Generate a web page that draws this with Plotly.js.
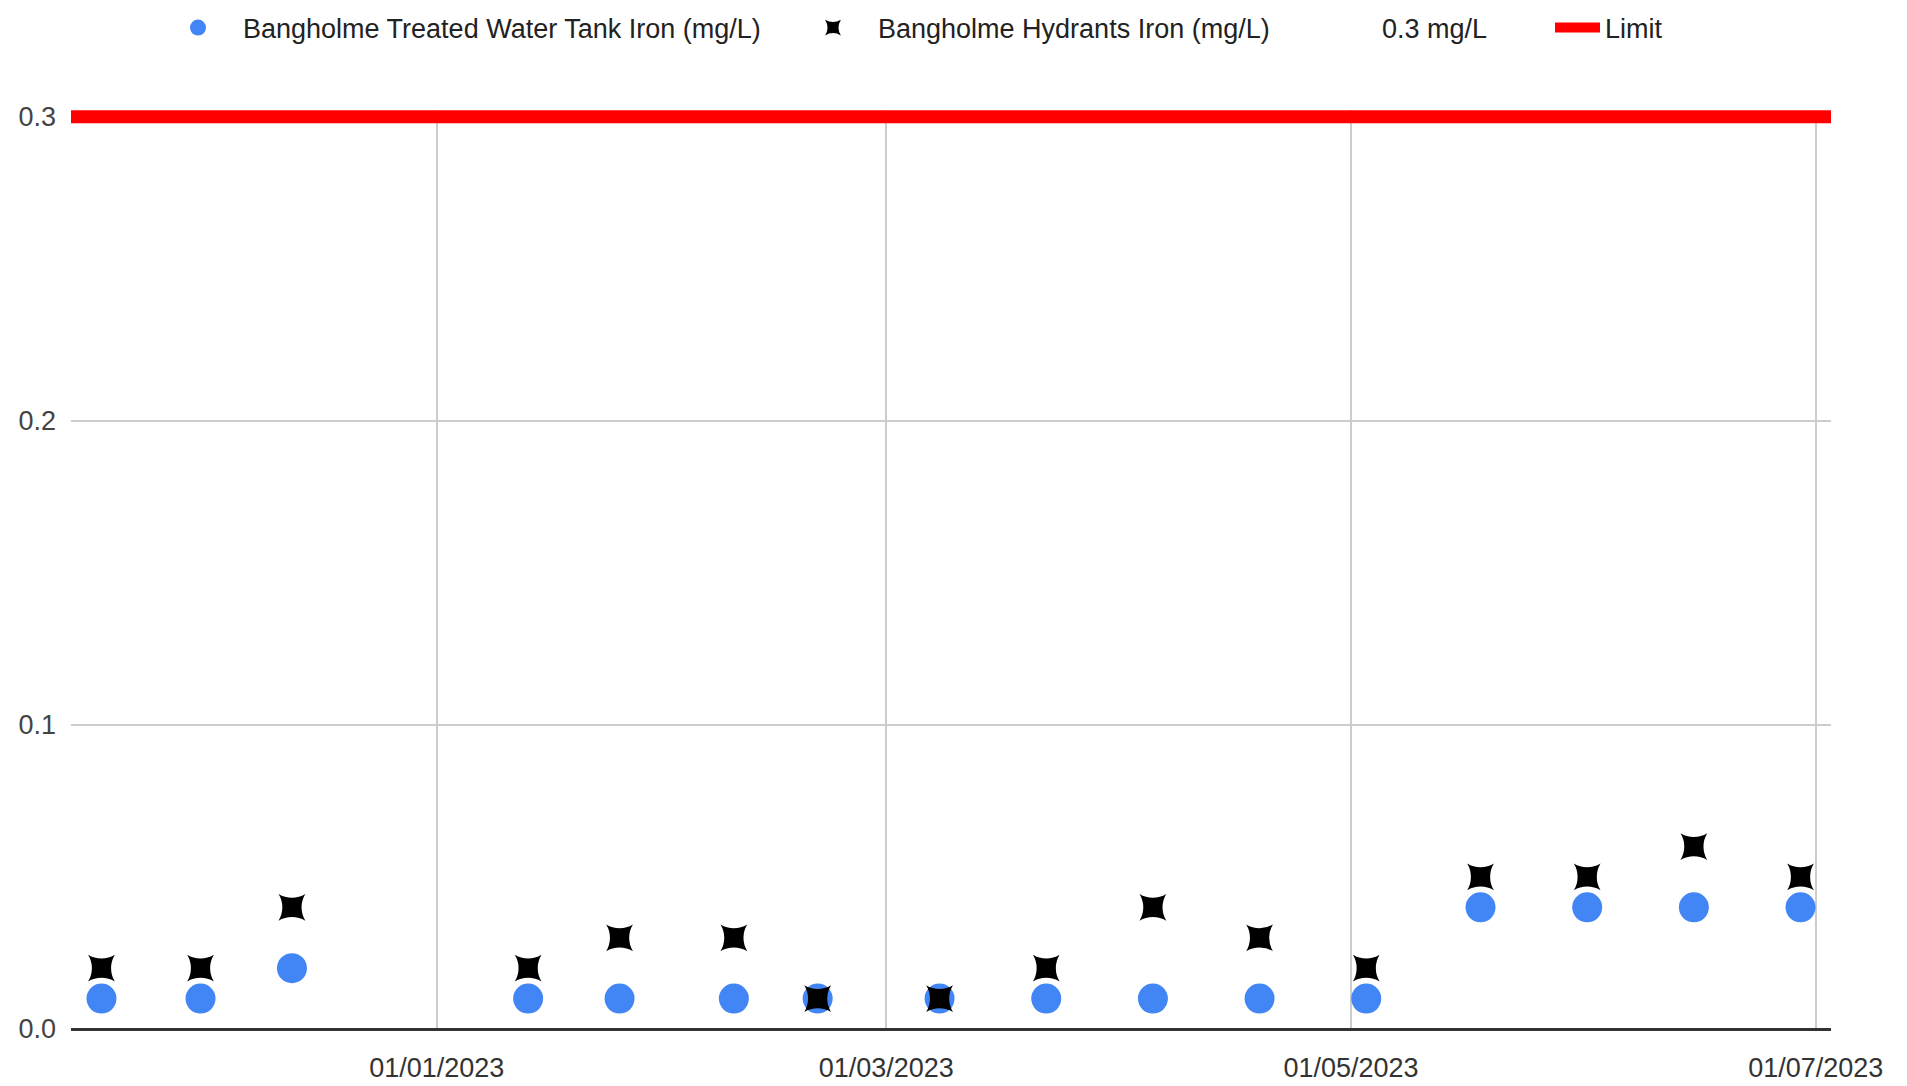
<!DOCTYPE html>
<html><head><meta charset="utf-8">
<script src="https://cdn.plot.ly/plotly-3.0.1.min.js"></script>
<style>html,body{margin:0;padding:0;background:#fff}#chart{width:1907px;height:1086px}</style>
</head><body><div id="chart"></div>
<script>
// Sample dates
const sampleDates = ['2022-11-18','2022-12-01','2022-12-13','2023-01-13','2023-01-25','2023-02-09','2023-02-20','2023-03-08','2023-03-22','2023-04-05','2023-04-19','2023-05-03','2023-05-18','2023-06-01','2023-06-15','2023-06-29'];
// Bangholme Treated Water Tank Iron (mg/L)
const tankIron = [0.01,0.01,0.02,0.01,0.01,0.01,0.01,0.01,0.01,0.01,0.01,0.01,0.04,0.04,0.04,0.04];
// Bangholme Hydrants Iron (mg/L)
const hydrantIron = [0.02,0.02,0.04,0.02,0.03,0.03,0.01,0.01,0.02,0.04,0.03,0.02,0.05,0.05,0.06,0.05];
// Limit line
const limitDates = ['2022-11-14','2023-07-03'];
const limitValues = [0.3, 0.3];
const yTickVals = [0, 0.1, 0.2, 0.3];
const seriesNames = ['Bangholme Treated Water Tank Iron (mg/L)','Bangholme Hydrants Iron (mg/L)','0.3 mg/L','Limit'];

const FONT = '"Liberation Sans", Arial, sans-serif';
const W = 1907, H = 1086;

const traces = [
  {x: sampleDates, y: tankIron, name: seriesNames[0], type: 'scatter', mode: 'markers',
   marker: {color: '#4285f4', size: 30, symbol: 'circle'}, cliponaxis: false, legend: 'legend'},
  {x: sampleDates, y: hydrantIron, name: seriesNames[1], type: 'scatter', mode: 'markers',
   marker: {color: '#000000', size: 27, symbol: 'star-diamond', angle: 45, line: {width: 0}}, cliponaxis: false, legend: 'legend2'},
  {x: limitDates, y: limitValues, name: seriesNames[2], type: 'scatter', mode: 'lines',
   line: {color: 'rgba(0,0,0,0)', width: 0}, legend: 'legend3', hoverinfo: 'skip'},
  {x: limitDates, y: limitValues, name: seriesNames[3], type: 'scatter', mode: 'lines',
   line: {color: '#ff0000', width: 13}, legend: 'legend4'}
];

function leg(xpx, iw) {
  return {xref: 'container', yref: 'container', x: xpx / W, y: 1 - 28 / H, xanchor: 'left', yanchor: 'middle',
          orientation: 'h', font: {family: FONT, size: 27, color: '#222'}, bgcolor: 'rgba(0,0,0,0)', itemwidth: iw};
}

const layout = {
  width: W, height: H,
  margin: {l: 71, r: 76, t: 110, b: 57},
  paper_bgcolor: '#fff', plot_bgcolor: '#fff',
  font: {family: FONT, size: 27, color: '#444'},
  showlegend: true,
  legend: leg(153, 80), legend2: leg(788, 80), legend3: leg(1292, 80), legend4: leg(1550, 45),
  xaxis: {
    type: 'date', range: [limitDates[0], limitDates[1]],
    tickformat: '%d/%m/%Y', dtick: 'M2', tick0: '2023-01-01',
    showgrid: true, gridcolor: '#cccccc', gridwidth: 2,
    showline: false, zeroline: false, ticks: '', ticklabelstandoff: 20,
    tickfont: {family: FONT, size: 27, color: '#333'}
  },
  yaxis: {
    range: [0, 0.3022], tickvals: yTickVals, tickformat: '.1f',
    showgrid: true, gridcolor: '#cccccc', gridwidth: 2,
    zeroline: true, zerolinecolor: '#333333', zerolinewidth: 3,
    showline: false, ticks: '', ticklabelstandoff: 14,
    tickfont: {family: FONT, size: 27, color: '#444'}
  },
  hovermode: false
};

Plotly.newPlot('chart', traces, layout, {displayModeBar: false, staticPlot: true});
</script></body></html>
